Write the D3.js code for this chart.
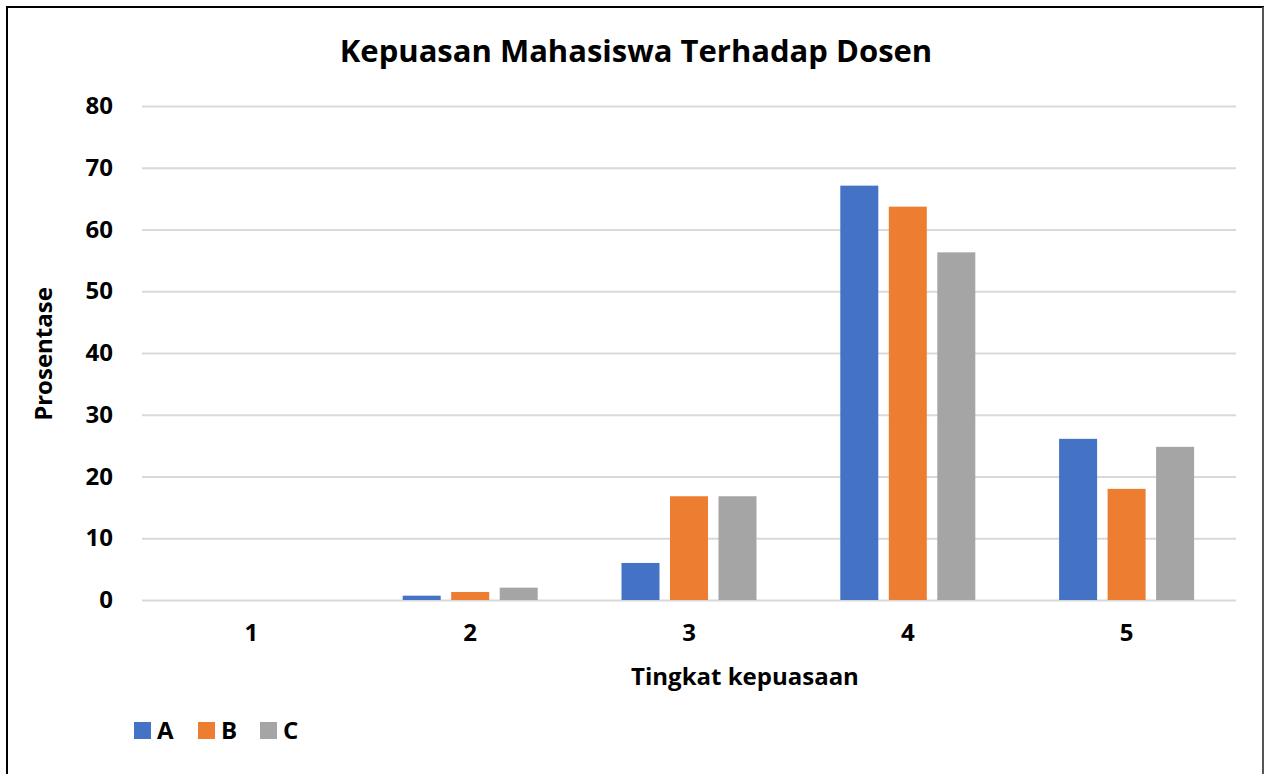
<!DOCTYPE html>
<html>
<head>
<meta charset="utf-8">
<script src="https://cdn.jsdelivr.net/npm/d3@7"></script>
<style>
  body { margin: 0; background: #fff; }
  text { font-family: "Open Sans", sans-serif; font-weight: 700; fill: #000; }
</style>
</head>
<body>
<div class="center"></div>
<script>
// data
const categories = ["1", "2", "3", "4", "5"];
const seriesNames = ["A", "B", "C"];
const valuesA = [0, 0.7, 6.0, 67.1, 26.1];
const valuesB = [0, 1.3, 16.8, 63.7, 18.0];
const valuesC = [0, 2.0, 16.8, 56.3, 24.8];
const yTicks = [0, 10, 20, 30, 40, 50, 60, 70, 80];
const colors = ["#4472C4", "#ED7D31", "#A5A5A5"];

const W = 1265, H = 774;
const plot = {left: 142, right: 1236, top: 106, bottom: 600};

const svg = d3.select(".center").append("svg")
    .attr("width", W)
    .attr("height", H);

// frame
svg.append("line").attr("x1", 6).attr("x2", 1264).attr("y1", 7).attr("y2", 7)
    .attr("stroke", "#000").attr("stroke-width", 2);
svg.append("line").attr("x1", 7).attr("x2", 7).attr("y1", 6).attr("y2", H)
    .attr("stroke", "#000").attr("stroke-width", 2);
svg.append("line").attr("x1", 1263).attr("x2", 1263).attr("y1", 7).attr("y2", H)
    .attr("stroke", "#555").attr("stroke-width", 2);

// scales
const xScale = d3.scaleBand()
    .domain(categories)
    .range([plot.left, plot.right]);
const x1 = d3.scaleBand()
    .domain(seriesNames)
    .range([-67.5, 67.5])
    .paddingInner(0.2165);
const yScale = d3.scaleLinear()
    .domain([0, 80])
    .range([plot.bottom, plot.top]);
const color = d3.scaleOrdinal().domain(seriesNames).range(colors);

// gridlines + y labels
const yAxis = d3.axisLeft(yScale)
    .tickValues(yTicks)
    .tickSize(-(plot.right - plot.left))
    .tickPadding(29)
    .tickFormat(d3.format("d"));
const gy = svg.append("g")
    .attr("transform", `translate(${plot.left},0)`)
    .call(yAxis);
gy.select(".domain").remove();
gy.selectAll(".tick line").attr("stroke", "#d9d9d9").attr("stroke-width", 2);
gy.selectAll(".tick text").style("font-size", "24px").attr("fill", "#000");

// bars
const table = categories.map((c, i) => ({
  cat: c,
  vals: [valuesA[i], valuesB[i], valuesC[i]].map((v, j) => ({name: seriesNames[j], value: v}))
}));

const groups = svg.selectAll("g.cat")
    .data(table)
    .enter().append("g")
    .attr("class", "cat")
    .attr("transform", d => `translate(${xScale(d.cat) + xScale.bandwidth() / 2},0)`);

groups.selectAll("rect")
    .data(d => d.vals.filter(v => v.value > 0))
    .enter().append("rect")
    .attr("x", d => x1(d.name))
    .attr("width", x1.bandwidth())
    .attr("y", d => yScale(d.value))
    .attr("height", d => yScale(0) - yScale(d.value))
    .style("fill", d => color(d.name));

// x labels
const xAxis = d3.axisBottom(xScale).tickSize(0).tickPadding(24);
const gx = svg.append("g")
    .attr("transform", `translate(0,${plot.bottom})`)
    .call(xAxis);
gx.select(".domain").remove();
gx.selectAll(".tick text").style("font-size", "24px").attr("fill", "#000");

// title
svg.append("text")
    .attr("x", 636)
    .attr("y", 62)
    .attr("text-anchor", "middle")
    .style("font-size", "31px")
    .text("Kepuasan Mahasiswa Terhadap Dosen");

// axis titles
svg.append("text")
    .attr("x", 745)
    .attr("y", 685)
    .attr("text-anchor", "middle")
    .style("font-size", "24px")
    .text("Tingkat kepuasaan");

svg.append("text")
    .attr("transform", "translate(52,354) rotate(-90)")
    .attr("text-anchor", "middle")
    .style("font-size", "24px")
    .text("Prosentase");

// legend
const legendX = [134, 198, 260];
seriesNames.forEach((s, i) => {
  svg.append("rect")
      .attr("x", legendX[i])
      .attr("y", 722)
      .attr("width", 17)
      .attr("height", 17)
      .style("fill", color(s));
  svg.append("text")
      .attr("x", legendX[i] + 23)
      .attr("y", 739)
      .style("font-size", "24px")
      .text(s);
});
</script>
</body>
</html>
